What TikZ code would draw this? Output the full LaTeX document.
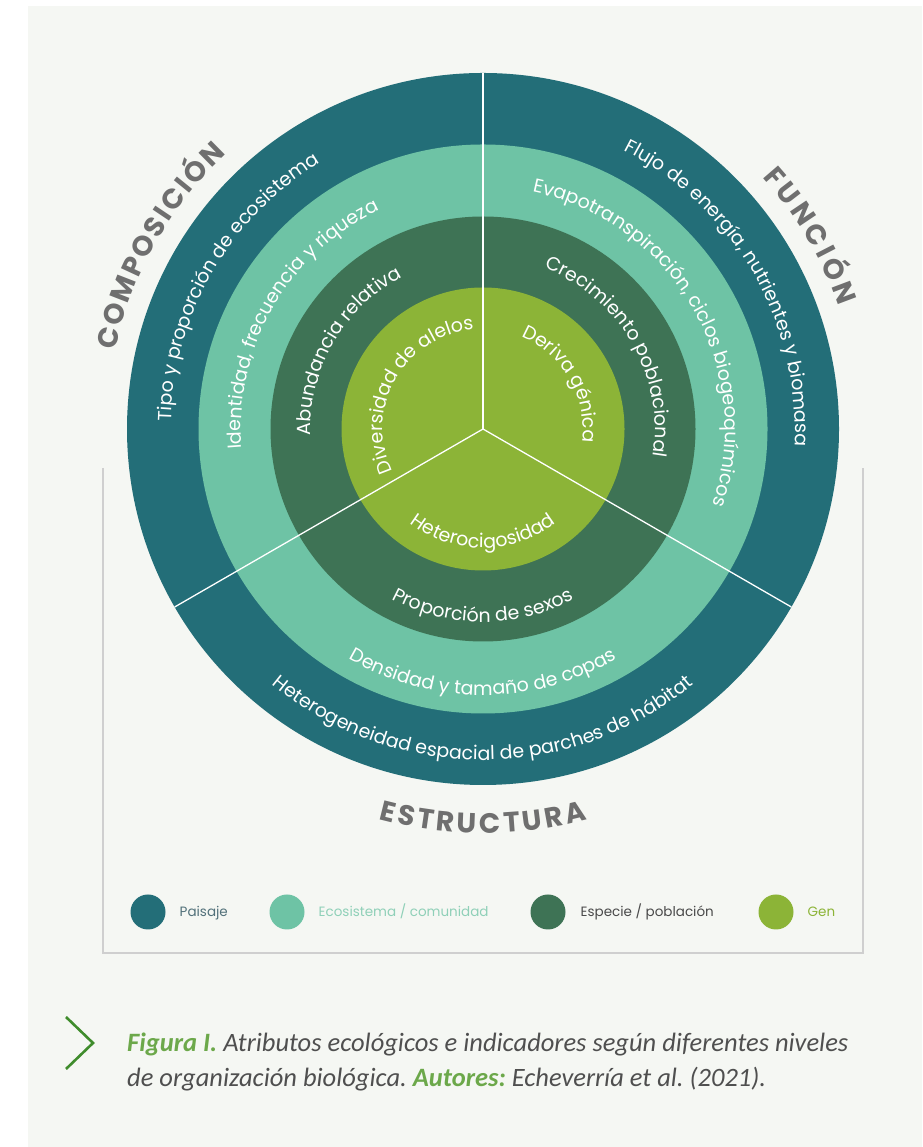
\documentclass[tikz,border=0pt]{standalone}
\usepackage{fontspec}
\setmainfont{Carlito}
\newfontfamily\ringfont{Poppins}
\usetikzlibrary{decorations.text,positioning}
\frenchspacing

\definecolor{paisaje}{HTML}{236E78}
\definecolor{ecosis}{HTML}{6EC3A5}
\definecolor{especie}{HTML}{3E7355}
\definecolor{gen}{HTML}{8CB437}
\definecolor{panelbg}{HTML}{F5F7F3}
\definecolor{framegray}{HTML}{CFCFCF}
\definecolor{axisgray}{HTML}{6F6F6F}
\definecolor{paisajetext}{HTML}{52717A}
\definecolor{ecosistext}{HTML}{8FD0B8}
\definecolor{especietext}{HTML}{4A4A4A}
\definecolor{capgray}{HTML}{4F4F4F}
\definecolor{capgreen}{HTML}{6CA84A}
\definecolor{chevgreen}{HTML}{3F8C2C}

\tikzset{
  levelring/.style={circle, draw=none, inner sep=0pt, outer sep=0pt, minimum size=#1},
  spoke/.style={white, line width=1.3pt},
  ringtext/.style={decorate, decoration={text along path, text align=center, text color=white,
      text={|\ringfont\fontsize{19}{22}\selectfont|#1}}},
  axistext/.style={decorate, decoration={text along path, text align=fit to path, text color=axisgray,
      text={|\ringfont\bfseries\fontsize{28}{32}\selectfont|#1}}},
  legdot/.style={circle, inner sep=0pt, outer sep=0pt, minimum size=35pt},
  legtext/.style={inner sep=0pt, text height=9.4pt, text depth=0pt, font=\ringfont\fontsize{13.5}{16}\selectfont},
  capline/.style={inner sep=0pt, text=capgray, font=\itshape\fontsize{26.5}{30}\selectfont},
  legendframe/.style={draw=framegray, line width=1.5pt},
  chevron/.style={draw=chevgreen, line width=2.6pt}
}

\begin{document}
\begin{tikzpicture}[x=1pt, y=1pt]
\useasboundingbox (0,0) rectangle (922,1147);
\fill[white] (0,0) rectangle (922,1147);
\fill[panelbg] (28,0) rectangle (922,1141);

% legend frame
\draw[legendframe] (103,679) |- (863,194) -- (863,679);

% levels
\coordinate (c) at (483,718);
\node[levelring=712pt, fill=paisaje] (paisaje) at (c) {};
\node[levelring=569pt, fill=ecosis] (ecosis) at (c) {};
\node[levelring=425pt, fill=especie] (especie) at (c) {};
\node[levelring=283pt, fill=gen] (gen) at (c) {};

\foreach \a in {90,210,330}
  \draw[spoke] (c) -- (paisaje.\a);

\begin{scope}[shift={(c)}]
% paisaje
\path[ringtext={Tipo y proporción de ecosistema}] (210:312) arc[start angle=210, end angle=90, radius=312];
\path[ringtext={Flujo de energía, nutrientes y biomasa}] (90:312) arc[start angle=90, end angle=-30, radius=312];
\path[ringtext={Heterogeneidad espacial de parches de hábitat}] (210:331) arc[start angle=210, end angle=330, radius=331];
% ecosistema
\path[ringtext={Identidad, frecuencia y riqueza}] (210:242) arc[start angle=210, end angle=90, radius=242];
\path[ringtext={Evapotranspiración, ciclos biogeoquímicos}] (90:242) arc[start angle=90, end angle=-30, radius=242];
\path[ringtext={Densidad y tamaño de copas}] (210:266) arc[start angle=210, end angle=330, radius=266];
% especie
\path[ringtext={Abundancia relativa}] (210:172) arc[start angle=210, end angle=90, radius=172];
\path[ringtext={Crecimiento poblacional}] (90:172) arc[start angle=90, end angle=-30, radius=172];
\path[ringtext={Proporción de sexos}] (210:193) arc[start angle=210, end angle=330, radius=193];
% gen
\path[ringtext={Diversidad de alelos}] (210:100) arc[start angle=210, end angle=90, radius=100];
\path[ringtext={Deriva génica}] (90:100) arc[start angle=90, end angle=-30, radius=100];
\path[ringtext={Heterocigosidad}] (210:119) arc[start angle=210, end angle=330, radius=119];

% attributes
\path[axistext={COMPOSICIÓN}] (168:376) arc[start angle=168, end angle=133, radius=376];
\path[axistext={FUNCIÓN}] (42:376) arc[start angle=42, end angle=19, radius=376];
\path[axistext={ESTRUCTURA}] (255:404) arc[start angle=255, end angle=285, radius=404];
\end{scope}

% legend
\node[legdot, fill=paisaje] (dotpaisaje) at (148,235) {};
\node[legtext, text=paisajetext, right=14pt of dotpaisaje] (txtpaisaje) {Paisaje};
\node[legdot, fill=ecosis] (dotecosis) at (287,235) {};
\node[legtext, text=ecosistext, right=14pt of dotecosis] (txtecosis) {Ecosistema / comunidad};
\node[legdot, fill=especie] (dotespecie) at (548,235) {};
\node[legtext, text=especietext, right=15pt of dotespecie] (txtespecie) {Especie / población};
\node[legdot, fill=gen] (dotgen) at (776,235) {};
\node[legtext, text=gen, right=14pt of dotgen] (txtgen) {Gen};

% caption
\draw[chevron] (66,130) -- (93,104) -- (66,78);
\node[capline, anchor=base west] (capone) at (127,95)
  {\textcolor{capgreen}{\bfseries Figura I.} Atributos ecológicos e indicadores según diferentes niveles};
\node[capline, anchor=base west] (captwo) at ([yshift=-35pt]capone.base west)
  {de organización biológica. \textcolor{capgreen}{\bfseries Autores:} Echeverría et al. (2021).};
\end{tikzpicture}
\end{document}
